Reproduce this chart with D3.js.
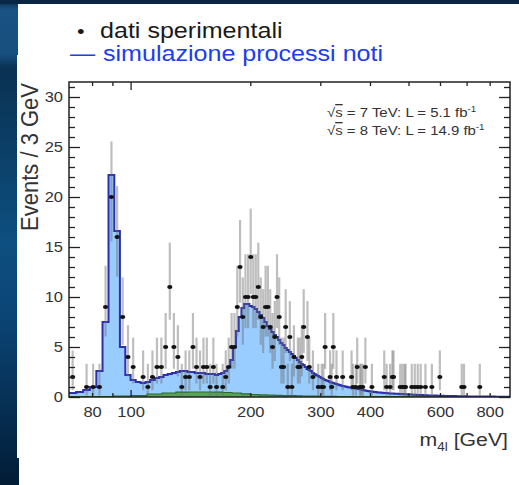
<!doctype html>
<html lang="it">
<head>
    <meta charset="UTF-8">
    <title>m4l - dati e simulazione</title>
    <script src="https://d3js.org/d3.v7.min.js"></script>
    <style>
        body { margin: 0; background: #0a2744; }
        svg { display: block; font-family: "Liberation Sans", Arial, Helvetica, sans-serif; }
    </style>
</head>
<body>
<script>

var width = 519;
var height = 485;

// dati sperimentali: centro del bin (GeV) e numero di eventi
var dataMass = [71.5, 77.5, 80.5, 83.5, 86.5, 89.5, 92.5, 95.5, 98.5, 101.5,
    107.5, 110.5, 113.5, 116.5, 119.5, 122.5, 125.5, 128.5, 131.5, 134.5,
    137.5, 140.5, 143.5, 146.5, 149.5, 152.5, 155.5, 158.5, 161.5, 164.5,
    170.5, 173.5, 176.5, 179.5, 182.5, 185.5, 188.5, 191.5, 194.5, 197.5,
    200.5, 203.5, 206.5, 209.5, 212.5, 215.5, 218.5, 221.5, 224.5, 227.5,
    230.5, 233.5, 236.5, 239.5, 242.5, 245.5, 248.5, 251.5, 254.5, 257.5,
    263.5, 266.5, 269.5, 272.5, 278.5, 281.5, 287.5, 296.5, 302.5, 305.5,
    308.5, 317.5, 320.5, 323.5, 329.5, 341.5, 359.5, 362.5, 368.5, 371.5,
    377.5, 380.5, 383.5, 389.5, 404.5, 434.5, 440.5, 449.5, 455.5, 458.5,
    476.5, 482.5, 488.5, 491.5, 509.5, 518.5, 527.5, 536.5, 551.5, 572.5,
    599.5, 680.5, 689.5, 755.5];
var dataCount = [2, 1, 1, 1, 9, 20, 16, 8, 4, 3,
    2, 1, 2, 3, 3, 5, 11, 5, 4, 1,
    2, 2, 5, 3, 2, 3, 3, 1, 3, 1,
    1, 2, 3, 5, 5, 9, 13, 8, 10, 10,
    14, 10, 10, 11, 8, 7, 9, 9, 7, 5,
    6, 10, 8, 3, 3, 7, 1, 6, 1, 4,
    3, 3, 4, 7, 6, 3, 2, 1, 1, 1,
    5, 2, 1, 5, 2, 2, 2, 1, 1, 3,
    1, 1, 1, 3, 1, 2, 1, 1, 2, 2,
    1, 1, 1, 1, 1, 1, 1, 1, 1, 1,
    2, 1, 1, 1];

// simulazione processi noti (totale), bin da 3 GeV a partire da 70 GeV
var mcStart = 70;
var mcWidth = 3;
var mcTotal = [0.4, 0.5, 0.7, 1.0, 2.6, 7.5, 22.2, 16.6, 5.0, 2.2,
    1.7, 1.5, 1.4, 1.5, 1.7, 1.9, 2.0, 2.2, 2.3, 2.4,
    2.5, 2.6, 2.6, 2.5, 2.5, 2.4, 2.4, 2.4, 2.3, 2.3,
    2.3, 2.2, 2.3, 2.4, 2.6, 3.0, 3.7, 5.0, 6.6, 8.0,
    8.9, 9.3, 9.3, 9.1, 9.0, 8.8, 8.5, 8.2, 7.9, 7.5,
    7.1, 6.8, 6.5, 6.2, 6.0, 5.7, 5.4, 5.2, 4.9, 4.7,
    4.5, 4.3, 4.1, 3.9, 3.7, 3.5, 3.3, 3.2, 3.0, 2.8,
    2.7, 2.6, 2.4, 2.3, 2.2, 2.1, 2.0, 1.9, 1.8, 1.7,
    1.65, 1.6, 1.5, 1.45, 1.4, 1.35, 1.3, 1.25, 1.2, 1.15,
    1.1, 1.08, 1.05, 1.0, 0.98, 0.95, 0.92, 0.9, 0.87, 0.85,
    0.82, 0.8, 0.77, 0.74, 0.71, 0.68, 0.65, 0.63, 0.6, 0.58,
    0.56, 0.54, 0.52, 0.5, 0.49, 0.47, 0.46, 0.45, 0.44, 0.43,
    0.42, 0.41, 0.4, 0.39, 0.38, 0.37, 0.36, 0.35, 0.34, 0.34,
    0.33, 0.33, 0.32, 0.32, 0.31, 0.3, 0.3, 0.29, 0.29, 0.28,
    0.27, 0.27, 0.26, 0.26, 0.25, 0.24, 0.24, 0.23, 0.23, 0.22,
    0.22, 0.21, 0.21, 0.2, 0.2, 0.2, 0.19, 0.19, 0.18, 0.18,
    0.17, 0.17, 0.17, 0.16, 0.16, 0.16, 0.15, 0.15, 0.15, 0.14,
    0.14, 0.14, 0.14, 0.13, 0.13, 0.13, 0.13, 0.12, 0.12, 0.12,
    0.12, 0.11, 0.11, 0.11, 0.11, 0.1, 0.1, 0.1, 0.1, 0.1,
    0.09, 0.09, 0.09, 0.09, 0.09, 0.09, 0.08, 0.08, 0.08, 0.08,
    0.08, 0.08, 0.07, 0.07, 0.07, 0.07, 0.07, 0.07, 0.07, 0.06,
    0.06, 0.06, 0.06, 0.06, 0.06, 0.06, 0.06, 0.06, 0.05, 0.05,
    0.05, 0.05, 0.05, 0.05, 0.05, 0.05, 0.05, 0.05, 0.05, 0.05,
    0.05, 0.05, 0.05, 0.05, 0.04, 0.04, 0.04, 0.04, 0.04, 0.04,
    0.04, 0.04, 0.04, 0.04, 0.04, 0.04, 0.04, 0.04, 0.04, 0.04,
    0.04, 0.04, 0.03, 0.03, 0.03, 0.03, 0.03, 0.03, 0.03, 0.03,
    0.03, 0.03, 0.03, 0.03, 0.03, 0.03, 0.03, 0.03, 0.03, 0.03,
    0.03, 0.03, 0.03, 0.03, 0.03, 0.03, 0.03];

// fondo Z+X (verde), bin da 10 GeV a partire da 70 GeV
var zxStart = 70;
var zxWidth = 10;
var zxValues = [0.03, 0.05, 0.08, 0.14, 0.3, 0.4, 0.48, 0.5, 0.5, 0.48,
    0.45, 0.4, 0.32, 0.25, 0.21, 0.18, 0.16, 0.14, 0.13, 0.12,
    0.1, 0.09, 0.08, 0.07, 0.06, 0.06, 0.05, 0.05, 0.04, 0.04,
    0.04, 0.03, 0.03, 0.03, 0.03, 0.03, 0.03, 0.03, 0.03, 0.03,
    0.03, 0.03, 0.03, 0.02, 0.02, 0.02, 0.02, 0.02, 0.02, 0.02,
    0.02, 0.02, 0.02, 0.02, 0.02, 0.02, 0.02, 0.02, 0.02, 0.02,
    0.02, 0.02, 0.02, 0.01, 0.01, 0.01, 0.01, 0.01, 0.01, 0.01,
    0.01, 0.01, 0.01, 0.01, 0.01, 0.01, 0.01, 0.01, 0.01, 0.01,
    0.01, 0.01, 0.01];

var xLabels = [80, 100, 200, 300, 400, 600, 800];
var xMinor = [80, 90, 200, 300, 400, 500, 600, 700, 800];
var xMajor = [100];
var yLabels = [0, 5, 10, 15, 20, 25, 30];
var yMinor = d3.range(0, 32).filter(function(d){ return d % 5 != 0; });

var legendData = ['dati sperimentali', 'simulazione processi noti'];

var svg = d3.select('body').append('svg')
    .attr('width', width)
    .attr('height', height);

// sfondo della slide
var grad = svg.append('defs').append('linearGradient')
    .attr('id', 'bg').attr('x1', 0).attr('y1', 0).attr('x2', 0).attr('y2', 1);
[[0, '#0a2a4a'], [0.02, '#1a5283'], [0.11, '#17507f'], [0.14, '#0a3152'],
 [0.5, '#0d4f80'], [0.65, '#0b4576'], [1, '#021c36']].forEach(function(s){
    grad.append('stop').attr('offset', s[0]).attr('stop-color', s[1]);
});
svg.append('rect').attr('width', width).attr('height', height).attr('fill', 'url(#bg)');
svg.append('rect').attr('x', 0).attr('y', 0).attr('width', width).attr('height', 4).attr('fill', '#0b2644');
svg.append('rect').attr('x', 18).attr('y', 4).attr('width', width - 18).attr('height', 52).attr('fill', 'white');
svg.append('rect').attr('x', 17).attr('y', 55).attr('width', width - 17).attr('height', 403).attr('fill', 'white');
svg.append('rect').attr('x', 19).attr('y', 457).attr('width', width - 19).attr('height', 28).attr('fill', 'white');

var x = d3.scaleLog().domain([70, 900]).range([69, 510]);
var y = d3.scaleLinear().domain([0, 31.5]).range([397, 82]);

svg.append('clipPath').attr('id', 'plot')
    .append('rect').attr('x', 69).attr('y', 82).attr('width', 441).attr('height', 315);

var plot = svg.append('g').attr('clip-path', 'url(#plot)');

// istogrammi a gradini
function steps(values, start, w) {
    var pts = values.map(function(v, i){ return {m: start + i * w, v: v}; });
    pts.push({m: start + values.length * w, v: values[values.length - 1]});
    return pts;
}
var mcPts = steps(mcTotal, mcStart, mcWidth);
var zxPts = steps(zxValues, zxStart, zxWidth);

var area = d3.area().curve(d3.curveStepAfter)
    .x(function(d){ return x(d.m); })
    .y0(y(0))
    .y1(function(d){ return y(d.v); });
var line = d3.line().curve(d3.curveStepAfter)
    .x(function(d){ return x(d.m); })
    .y(function(d){ return y(d.v); });

plot.append('path').attr('d', area(mcPts)).attr('fill', '#99ccff');
plot.append('path').attr('d', area(zxPts)).attr('fill', '#5aa25a');
plot.append('path').attr('d', line(zxPts)).attr('fill', 'none')
    .attr('stroke', '#2a6a2a').attr('stroke-width', 1.2);
plot.append('path').attr('d', line(mcPts)).attr('fill', 'none')
    .attr('stroke', '#2b2fb0').attr('stroke-width', 2);

// dati con barre di errore poissoniane
var pts = dataMass.map(function(m, i){ return {m: m, n: dataCount[i]}; });

plot.append('g').selectAll('line')
    .data(pts)
    .enter().append('line')
    .attr('x1', function(d){ return x(d.m); })
    .attr('x2', function(d){ return x(d.m); })
    .attr('y1', function(d){ return y(d.n - Math.sqrt(d.n - 0.25)); })
    .attr('y2', function(d){ return y(d.n + 1 + Math.sqrt(d.n + 0.75)); })
    .attr('stroke', '#6e6e6e')
    .attr('stroke-opacity', 0.45)
    .attr('stroke-width', 2.2);

plot.append('g').selectAll('ellipse')
    .data(pts)
    .enter().append('ellipse')
    .attr('cx', function(d){ return x(d.m); })
    .attr('cy', function(d){ return y(d.n); })
    .attr('rx', 2.6)
    .attr('ry', 2.1)
    .attr('fill', '#111');

// tacche degli assi (stile ROOT, verso l'interno)
function ticks(axis, tx, ty) {
    svg.append('g')
        .attr('transform', 'translate(' + tx + ',' + ty + ')')
        .call(axis.tickFormat(''))
        .call(function(g){ g.select('.domain').remove(); })
        .selectAll('line').attr('stroke', '#222').attr('stroke-width', 1.3);
}
ticks(d3.axisLeft(y).tickValues(yLabels).tickSize(-11), 69, 0);
ticks(d3.axisLeft(y).tickValues(yMinor).tickSize(-6), 69, 0);
ticks(d3.axisRight(y).tickValues(yLabels).tickSize(-11), 510, 0);
ticks(d3.axisRight(y).tickValues(yMinor).tickSize(-6), 510, 0);
ticks(d3.axisTop(x).tickValues(xMinor).tickSize(-4), 0, 82);
ticks(d3.axisTop(x).tickValues(xMajor).tickSize(-8), 0, 82);
ticks(d3.axisBottom(x).tickValues(xMinor).tickSize(-4), 0, 397);
ticks(d3.axisBottom(x).tickValues(xMajor).tickSize(-7), 0, 397);

svg.append('rect')
    .attr('x', 69).attr('y', 82).attr('width', 441).attr('height', 315)
    .attr('fill', 'none').attr('stroke', '#222').attr('stroke-width', 1.5);

// il testo nell'immagine originale e' allargato in orizzontale
function stretch(sel, sx) {
    sel.each(function(){
        var t = d3.select(this);
        var tx = +t.attr('x') || 0, ty = +t.attr('y') || 0;
        t.attr('x', 0).attr('y', 0)
            .attr('transform', 'translate(' + tx + ',' + ty + ') scale(' + sx + ',1)');
    });
}

// etichette
var yAx = svg.append('g').attr('transform', 'translate(69,0)')
    .call(d3.axisLeft(y).tickValues(yLabels).tickSize(0).tickPadding(6));
yAx.select('.domain').remove();
yAx.selectAll('text').attr('font-size', 15).attr('fill', '#333')
    .attr('font-family', '"Liberation Sans", Arial, sans-serif');
stretch(yAx.selectAll('text'), 1.1);

var xAx = svg.append('g').attr('transform', 'translate(0,397)')
    .call(d3.axisBottom(x).tickValues(xLabels).tickFormat(d3.format('d')).tickSize(0).tickPadding(9));
xAx.select('.domain').remove();
xAx.selectAll('text').attr('font-size', 15).attr('fill', '#333')
    .attr('font-family', '"Liberation Sans", Arial, sans-serif');
stretch(xAx.selectAll('text'), 1.1);

svg.append('text')
    .attr('transform', 'translate(38,83) scale(1.05,1) rotate(-90)')
    .attr('text-anchor', 'end')
    .attr('font-size', 22)
    .attr('fill', '#333')
    .text('Events / 3 GeV');

var xt = svg.append('text')
    .attr('x', 508).attr('y', 446)
    .attr('text-anchor', 'end')
    .attr('font-size', 19)
    .attr('fill', '#333');
xt.append('tspan').text('m');
xt.append('tspan').attr('font-size', 12).attr('dy', 5).text('4l');
xt.append('tspan').attr('dy', -5).text(' [GeV]');
stretch(xt, 1.12);

// energia e luminosita'
[['7', '5.1'], ['8', '14.9']].forEach(function(r, i){
    var t = svg.append('text')
        .attr('x', 327).attr('y', 117 + i * 18)
        .attr('font-size', 13)
        .attr('fill', '#333');
    t.append('tspan').text('\u221A');
    t.append('tspan').style('text-decoration', 'overline').text('s');
    t.append('tspan').text(' = ' + r[0] + ' TeV: L = ' + r[1] + ' fb');
    t.append('tspan').attr('font-size', 8.5).attr('dy', -5).text('-1');
    stretch(t, 1.15);
});

// legenda
var lg1a = svg.append('text').attr('x', 77).attr('y', 38)
    .attr('font-size', 19).attr('fill', '#1a1a1a').text('\u2022');
var lg1 = svg.append('text').attr('x', 100).attr('y', 38)
    .attr('font-size', 22).attr('fill', '#1a1a1a').text(legendData[0]);
var lg2a = svg.append('text').attr('x', 70).attr('y', 61)
    .attr('font-size', 22).attr('fill', '#1c3cf0').text('\u2014');
var lg2 = svg.append('text').attr('x', 103).attr('y', 61)
    .attr('font-size', 22).attr('fill', '#1c3cf0').text(legendData[1]);
stretch(lg1a, 1.14);
stretch(lg1, 1.14);
stretch(lg2a, 1.14);
stretch(lg2, 1.14);

</script>
</body>
</html>
